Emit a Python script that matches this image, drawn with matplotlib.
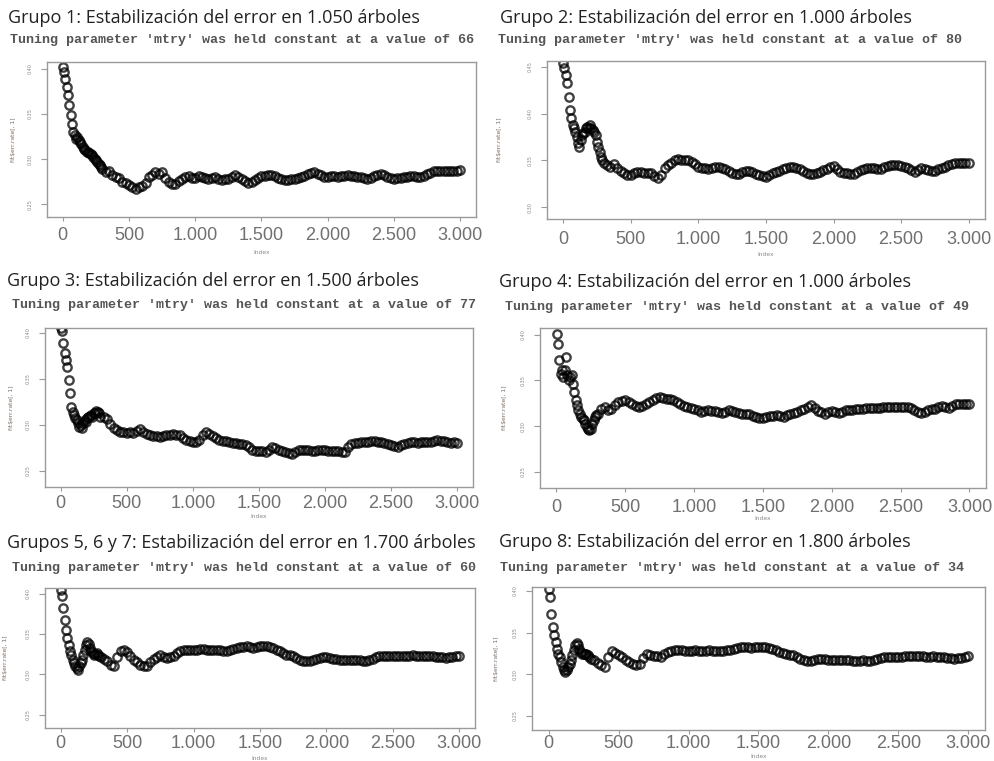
import matplotlib
matplotlib.use("Agg")
import matplotlib.pyplot as plt
import numpy as np

# number of trees at which the OOB error was recorded
trees = [1] + list(range(10, 301, 10)) + list(range(325, 3001, 25))

# OOB error rate (%) per group: first 31 values up to 300 trees, then every 25
err_g1 = [40.18, 39.63, 38.89, 37.97, 37.05, 35.95, 34.84, 33.92, 33.00, 32.63,
          32.26, 32.45, 32.08, 31.89, 31.71, 31.34, 31.16, 30.97, 30.79, 30.79,
          30.68, 30.53, 30.42, 30.23, 30.05, 29.87, 29.68, 29.50, 29.31, 29.13,
          28.94,
          28.55, 28.69, 28.20, 28.02, 27.90, 27.47, 27.35, 27.10, 26.95, 26.73,
          26.90, 26.99, 27.40, 28.02, 28.20, 28.58, 28.40, 28.58, 27.90, 27.47,
          27.20, 27.29, 27.60, 27.84, 28.00, 28.10, 27.90, 27.95, 28.10, 28.02,
          27.95, 27.84, 27.95, 28.02, 27.85, 27.73, 27.80, 27.84, 28.05, 28.21,
          28.05, 27.84, 27.55, 27.36, 27.50, 27.73, 27.95, 28.10, 28.15, 28.21,
          28.20, 28.10, 27.95, 27.84, 27.70, 27.66, 27.75, 27.84, 27.90, 28.02,
          28.15, 28.32, 28.45, 28.58, 28.40, 28.21, 28.05, 28.02, 28.10, 28.13,
          28.05, 28.10, 28.15, 28.21, 28.15, 28.13, 28.05, 28.02, 27.95, 27.84,
          27.95, 28.10, 28.20, 28.32, 28.20, 28.02, 27.90, 27.84, 27.90, 27.95,
          28.00, 28.02, 28.10, 28.13, 28.05, 28.02, 28.15, 28.32, 28.50, 28.69,
          28.65, 28.69, 28.70, 28.65, 28.68, 28.69, 28.72, 28.76]
err_g2 = [45.36, 44.82, 44.11, 43.22, 41.80, 40.38, 39.49, 38.78, 38.43, 38.07,
          37.54, 36.83, 36.47, 37.18, 37.71, 37.89, 38.07, 38.43, 38.60, 38.43,
          38.78, 38.43, 38.25, 38.07, 37.71, 37.00, 36.47, 35.94, 35.40, 35.05,
          34.69,
          34.50, 34.34, 34.60, 34.16, 33.90, 33.63, 33.40, 33.45, 33.65, 33.80,
          33.75, 33.70, 33.70, 33.63, 33.35, 33.09, 33.40, 34.16, 34.50, 34.76,
          35.00, 35.12, 35.10, 35.05, 35.00, 34.87, 34.60, 34.34, 34.20, 34.16,
          34.10, 34.16, 34.30, 34.34, 34.20, 34.05, 33.85, 33.70, 33.60, 33.56,
          33.75, 33.91, 33.90, 33.80, 33.60, 33.45, 33.35, 33.27, 33.45, 33.63,
          33.80, 33.91, 34.05, 34.16, 34.25, 34.34, 34.20, 34.05, 33.85, 33.70,
          33.60, 33.56, 33.70, 33.80, 33.95, 34.05, 34.25, 34.41, 34.10, 33.80,
          33.70, 33.63, 33.58, 33.56, 33.80, 33.98, 34.10, 34.16, 34.15, 34.16,
          34.10, 34.05, 34.25, 34.41, 34.48, 34.52, 34.48, 34.41, 34.30, 34.16,
          33.95, 33.80, 34.00, 34.16, 34.05, 33.98, 33.90, 33.91, 34.05, 34.16,
          34.35, 34.52, 34.60, 34.69, 34.72, 34.76, 34.78, 34.76]
err_g3 = [40.55, 40.18, 38.91, 37.82, 37.09, 36.36, 34.90, 33.45, 31.99, 31.44,
          31.08, 30.72, 30.53, 30.17, 29.80, 29.99, 29.62, 30.17, 30.53, 30.35,
          30.72, 30.90, 30.97, 31.08, 30.90, 31.26, 31.33, 31.55, 31.44, 31.26,
          30.90,
          30.90, 30.61, 30.10, 29.62, 29.40, 29.26, 29.20, 29.15, 29.25, 29.08,
          29.30, 29.51, 29.20, 29.00, 28.90, 28.79, 28.80, 28.71, 28.80, 28.86,
          28.95, 29.00, 28.95, 28.89, 28.60, 28.35, 28.25, 28.17, 28.20, 28.35,
          28.90, 29.26, 29.05, 28.79, 28.55, 28.35, 28.30, 28.28, 28.15, 28.06,
          28.05, 27.98, 27.90, 27.80, 27.55, 27.26, 27.20, 27.18, 27.15, 27.07,
          27.30, 27.62, 27.45, 27.26, 27.15, 27.07, 26.95, 26.89, 27.05, 27.26,
          27.30, 27.33, 27.25, 27.18, 27.20, 27.26, 27.28, 27.26, 27.22, 27.18,
          27.20, 27.18, 27.10, 27.07, 27.55, 27.98, 28.00, 28.06, 28.10, 28.17,
          28.20, 28.28, 28.25, 28.17, 28.10, 28.06, 27.95, 27.80, 27.70, 27.62,
          27.80, 27.98, 28.05, 28.17, 28.12, 28.09, 28.10, 28.17, 28.15, 28.17,
          28.25, 28.35, 28.30, 28.28, 28.15, 28.06, 28.10, 28.06]
err_g4 = [40.11, 39.02, 37.20, 35.74, 36.10, 35.38, 36.10, 37.56, 35.56, 35.01,
          35.38, 35.56, 34.65, 33.74, 32.83, 32.28, 31.73, 31.37, 31.01, 30.82,
          30.64, 30.28, 29.91, 29.73, 29.55, 29.73, 30.28, 30.64, 31.01, 31.19,
          31.37,
          31.90, 32.10, 31.80, 31.92, 32.30, 32.65, 32.75, 32.83, 32.70, 32.46,
          32.25, 32.10, 32.25, 32.46, 32.70, 32.90, 33.05, 33.19, 33.10, 33.01,
          32.95, 32.83, 32.65, 32.46, 32.25, 32.10, 32.00, 31.92, 31.75, 31.55,
          31.65, 31.73, 31.70, 31.66, 31.55, 31.44, 31.60, 31.73, 31.65, 31.55,
          31.45, 31.37, 31.35, 31.30, 31.15, 31.01, 30.95, 30.93, 31.00, 31.08,
          31.15, 31.19, 31.10, 31.01, 31.20, 31.37, 31.45, 31.55, 31.75, 31.92,
          32.15, 32.28, 31.95, 31.66, 31.50, 31.37, 31.50, 31.66, 31.55, 31.44,
          31.60, 31.73, 31.78, 31.81, 31.85, 31.88, 31.90, 31.95, 32.00, 32.03,
          32.00, 31.95, 32.05, 32.10, 32.10, 32.10, 32.08, 32.10, 32.12, 32.10,
          31.95, 31.81, 31.60, 31.44, 31.55, 31.73, 31.85, 31.92, 32.05, 32.17,
          32.10, 32.03, 32.20, 32.39, 32.40, 32.39, 32.42, 32.46]
err_g567 = [40.50, 39.67, 38.22, 36.78, 35.54, 34.50, 33.68, 32.85, 32.44, 31.82,
            31.41, 30.99, 30.79, 30.58, 30.99, 31.41, 31.82, 32.44, 33.06, 33.68,
            33.97, 33.80, 33.26, 32.85, 32.64, 32.44, 32.56, 32.64, 32.44, 32.23,
            32.15,
            31.90, 31.61, 31.20, 30.99, 32.20, 32.85, 33.00, 32.73, 32.30, 31.82,
            31.50, 31.20, 31.00, 30.99, 31.50, 31.90, 32.20, 32.44, 32.20, 32.03,
            32.15, 32.31, 32.60, 32.85, 33.00, 33.06, 33.00, 32.98, 33.05, 33.14,
            33.10, 33.06, 33.00, 32.98, 33.02, 33.06, 32.95, 32.85, 33.00, 33.14,
            33.30, 33.39, 33.45, 33.47, 33.35, 33.26, 33.35, 33.47, 33.50, 33.55,
            33.45, 33.26, 33.05, 32.85, 32.65, 32.44, 32.35, 32.23, 32.00, 31.82,
            31.70, 31.61, 31.70, 31.82, 31.95, 32.03, 32.10, 32.15, 32.00, 31.90,
            31.85, 31.82, 31.78, 31.74, 31.78, 31.82, 31.78, 31.74, 31.68, 31.61,
            31.75, 31.90, 32.10, 32.23, 32.25, 32.23, 32.28, 32.31, 32.28, 32.23,
            32.22, 32.23, 32.30, 32.40, 32.30, 32.23, 32.28, 32.31, 32.28, 32.23,
            32.20, 32.15, 32.10, 32.07, 32.10, 32.15, 32.22, 32.31]
err_g8 = [40.28, 39.28, 37.29, 35.69, 34.69, 33.90, 33.10, 32.50, 32.10, 31.50,
          30.90, 30.50, 30.30, 30.58, 30.90, 31.22, 31.70, 32.30, 32.90, 33.50,
          33.78, 33.50, 33.10, 32.70, 32.50, 32.42, 32.50, 32.42, 32.30, 32.10,
          31.90,
          31.70, 31.38, 31.10, 30.90, 32.10, 32.82, 32.60, 32.30, 32.05, 31.78,
          31.50, 31.22, 31.15, 31.30, 31.95, 32.50, 32.35, 32.18, 32.15, 32.10,
          32.40, 32.70, 32.85, 32.98, 32.95, 32.90, 32.85, 32.82, 32.85, 32.90,
          32.85, 32.82, 32.86, 32.90, 32.85, 32.82, 32.80, 32.82, 32.90, 32.98,
          33.10, 33.22, 33.28, 33.30, 33.25, 33.22, 33.26, 33.30, 33.32, 33.30,
          33.20, 33.10, 32.90, 32.70, 32.55, 32.42, 32.35, 32.30, 32.10, 31.90,
          31.75, 31.62, 31.65, 31.70, 31.80, 31.90, 31.85, 31.78, 31.74, 31.70,
          31.70, 31.70, 31.70, 31.70, 31.66, 31.62, 31.66, 31.70, 31.66, 31.62,
          31.75, 31.90, 32.00, 32.10, 32.10, 32.10, 32.10, 32.10, 32.14, 32.18,
          32.18, 32.18, 32.22, 32.26, 32.18, 32.10, 32.14, 32.18, 32.14, 32.10,
          32.06, 32.02, 31.96, 31.90, 31.96, 32.02, 32.10, 32.18]

titles = ["Grupo 1: Estabilización del error en 1.050 árboles",
          "Grupo 2: Estabilización del error en 1.000 árboles",
          "Grupo 3: Estabilización del error en 1.500 árboles",
          "Grupo 4: Estabilización del error en 1.000 árboles",
          "Grupos 5, 6 y 7: Estabilización del error en 1.700 árboles",
          "Grupo 8: Estabilización del error en 1.800 árboles"]
mtry = [66, 80, 77, 49, 60, 34]
series = [err_g1, err_g2, err_g3, err_g4, err_g567, err_g8]
y_ticks = [[0.25, 0.30, 0.35, 0.40], [0.30, 0.35, 0.40, 0.45],
           [0.25, 0.30, 0.35, 0.40], [0.25, 0.30, 0.35, 0.40],
           [0.25, 0.30, 0.35, 0.40], [0.25, 0.30, 0.35, 0.40]]
y_lims = [(0.2360, 0.4074), (0.2876, 0.4560), (0.2325, 0.4055),
          (0.2325, 0.4073), (0.2335, 0.4070), (0.2332, 0.4048)]
x_ticks = [0, 500, 1000, 1500, 2000, 2500, 3000]
x_labels = ["0", "500", "1.000", "1.500", "2.000", "2.500", "3.000"]

W, H = 995, 761
# panel layout in pixels: box (left, top, right, bottom), title / subtitle
# baselines, x tick label pad (pt), y label x, "Index" y
boxes = [(47, 62, 476, 217), (547, 61, 985, 219), (45, 328, 473, 487),
         (540, 328, 986, 488), (45, 588, 475, 728), (532, 587, 985, 730)]
title_pos = [(8, 23), (500, 23), (7, 286), (499, 287), (7, 548), (499, 547)]
sub_pos = [(10, 43), (498, 43), (12, 308), (505, 310), (12, 571), (500, 571)]
xpads = [4.0, 6.0, 2.6, 4.7, 1.9, 0.6]
ylab_x = [14, 500, 12, 505, 6, 497]
index_y = [252, 254, 517, 519, 758, 757]

fig = plt.figure(figsize=(W / 100, H / 100), dpi=100)
fig.patch.set_facecolor("white")

for i in range(6):
    l, t, r, b = boxes[i]
    ax = fig.add_axes([l / W, 1 - b / H, (r - l) / W, (b - t) / H])
    ax.plot(trees, np.array(series[i]) / 100, "o", mfc="none", mec="black",
            ms=6, mew=1.7, alpha=0.75)
    ax.set_xlim(-119, 3120)
    ax.set_ylim(*y_lims[i])
    for s in ax.spines.values():
        s.set_color("#9a9a9a")
        s.set_linewidth(1.0)
    ax.set_xticks(x_ticks)
    ax.set_xticklabels(x_labels, family="Liberation Sans", fontsize=13,
                       color="#707070")
    ax.tick_params(axis="x", length=3, width=0.8, color="#9a9a9a",
                   pad=xpads[i])
    ax.set_yticks(y_ticks[i])
    ax.set_yticklabels(["%.2f" % v for v in y_ticks[i]], fontsize=3.5,
                       color="#8a8a8a", rotation=90, va="center")
    ax.tick_params(axis="y", length=4, width=0.8, color="#9a9a9a", pad=6)

    # titles, subtitle, axis labels
    fig.text(title_pos[i][0] / W, 1 - title_pos[i][1] / H, titles[i],
             family="Open Sans", fontsize=13, color="#222222", va="baseline")
    fig.text(sub_pos[i][0] / W, 1 - sub_pos[i][1] / H,
             "Tuning parameter 'mtry' was held constant at a value of %d" % mtry[i],
             family="Liberation Mono", fontsize=9.6, color="#555555",
             va="baseline", weight="bold")
    fig.text(ylab_x[i] / W, 1 - (t + b) / 2 / H, "fit$err.rate[, 1]",
             fontsize=4.3, color="#7a6a60", rotation=90, ha="center",
             va="center")
    fig.text((l + r) / 2 / W, 1 - index_y[i] / H, "Index", fontsize=4.3,
             color="#8a8a8a", ha="center", va="center")

plt.savefig("out.png", dpi=100)
plt.close()
